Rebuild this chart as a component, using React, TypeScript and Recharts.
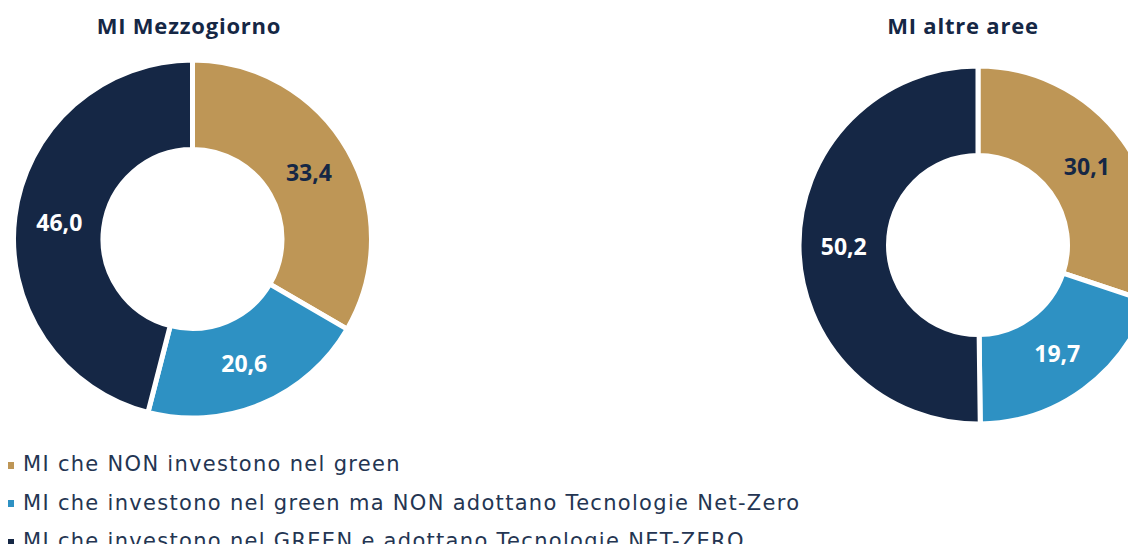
import { PieChart, Pie, Cell } from "recharts";

const CATEGORIES = [
  "MI che NON investono nel green",
  "MI che investono nel green ma NON adottano Tecnologie Net-Zero",
  "MI che investono nel GREEN e adottano Tecnologie NET-ZERO",
];
const MEZZOGIORNO = [33.4, 20.6, 46.0];
const ALTRE_AREE = [30.1, 19.7, 50.2];
const TITLES = ["MI Mezzogiorno", "MI altre aree"];

const COLORS = ["#BE9656", "#2E91C3", "#152745"];
const LABEL_COLORS = ["#152745", "#FFFFFF", "#FFFFFF"];
const NAVY = "#152745";
const FONT = "'Open Sans', sans-serif";
const RADIAN = Math.PI / 180;

const fmt = (v: number) => v.toFixed(1).replace(".", ",");

function renderLabel(props: any) {
  const { cx, cy, midAngle, innerRadius, outerRadius, value, index } = props;
  const r = innerRadius + (outerRadius - innerRadius) / 2;
  const x = cx + r * Math.cos(-midAngle * RADIAN);
  const y = cy + r * Math.sin(-midAngle * RADIAN);
  return (
    <text
      x={x}
      y={y}
      fill={LABEL_COLORS[index]}
      textAnchor="middle"
      dominantBaseline="central"
      style={{ fontFamily: FONT, fontWeight: 700, fontSize: 23 }}
    >
      {fmt(value)}
    </text>
  );
}

function Donut({ values, cx, cy }: { values: number[]; cx: number; cy: number }) {
  const data = CATEGORIES.map((name, i) => ({ name, value: values[i] }));
  return (
    <PieChart width={420} height={440} margin={{ top: 0, right: 0, bottom: 0, left: 0 }}>
      <Pie
        data={data}
        dataKey="value"
        nameKey="name"
        cx={cx}
        cy={cy}
        innerRadius={89.5}
        outerRadius={179}
        startAngle={90}
        endAngle={-270}
        stroke="#FFFFFF"
        strokeWidth={5}
        label={renderLabel}
        labelLine={false}
        isAnimationActive={false}
      >
        {data.map((_d, i) => (
          <Cell key={`cell-${i}`} fill={COLORS[i]} />
        ))}
      </Pie>
    </PieChart>
  );
}

export default function App() {
  const titleStyle: React.CSSProperties = {
    position: "absolute",
    top: 10,
    width: 300,
    textAlign: "center",
    fontFamily: FONT,
    fontWeight: 700,
    fontSize: 22,
    letterSpacing: 0.8,
    color: NAVY,
    lineHeight: "30px",
  };
  return (
    <div
      style={{
        position: "relative",
        width: 1136,
        height: 552,
        margin: -8,
        overflow: "hidden",
        background: "#FFFFFF",
      }}
    >
      <div style={{ ...titleStyle, left: 189 - 150 }}>{TITLES[0]}</div>
      <div style={{ ...titleStyle, left: 963 - 150 }}>{TITLES[1]}</div>

      <div style={{ position: "absolute", left: 0, top: 0 }}>
        <Donut values={MEZZOGIORNO} cx={192.5} cy={239} />
      </div>
      <div style={{ position: "absolute", left: 760, top: 0 }}>
        <Donut values={ALTRE_AREE} cx={218} cy={245} />
      </div>

      <div style={{ position: "absolute", left: 7, top: 445 }}>
        {CATEGORIES.map((c, i) => (
          <div
            key={c}
            style={{
              display: "flex",
              alignItems: "center",
              height: 38.5,
              fontFamily: "'DejaVu Sans', sans-serif",
              fontSize: 21,
              letterSpacing: 1.3,
              color: "#243552",
              whiteSpace: "nowrap",
            }}
          >
            <span
              style={{
                display: "inline-block",
                width: 7,
                height: 7,
                background: COLORS[i],
                marginRight: 9,
                marginTop: 2,
                flexShrink: 0,
              }}
            />
            {c}
          </div>
        ))}
      </div>
    </div>
  );
}
